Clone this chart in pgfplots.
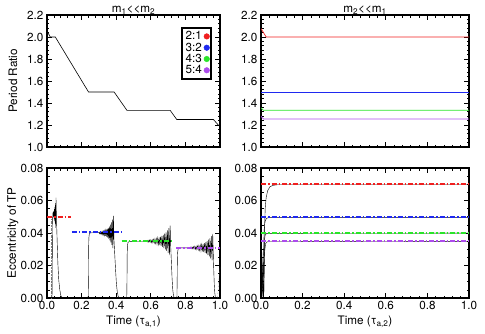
\documentclass[border=0pt]{standalone}
\usepackage{pgfplots}
\pgfplotsset{compat=1.18}
\usepackage{fontspec}
\setmainfont{TeX Gyre Heros}

\definecolor{cred}{rgb}{0.94,0.12,0.12}
\definecolor{cblue}{rgb}{0.12,0.16,0.94}
\definecolor{cgreen}{rgb}{0.16,0.90,0.16}
\definecolor{cpurple}{rgb}{0.68,0.30,0.93}

\pgfplotsset{
  idl/.style={
    scale only axis,
    font=\fontsize{11.7}{13}\selectfont,
    axis line style={line width=1.1pt},
    tick style={line width=0.7pt, black},
    major tick length=5pt, minor tick length=2.5pt,
    xmin=0, xmax=1,
    xtick={0,0.2,0.4,0.6,0.8,1},
    minor x tick num=4,
    scaled ticks=false,
    /pgf/number format/assume math mode=true,
    xticklabel={\pgfmathprintnumber[fixed,fixed zerofill,precision=1]{\tick}},
    every axis title shift=0pt,
    title style={at={(axis description cs:0.5,1)}, anchor=base, yshift=2.5pt},
    every axis x label/.style={at={(axis description cs:0.5,-0.185)}, anchor=center},
  },
  toprow/.style={idl, height=132pt, ymin=1, ymax=2.2, minor y tick num=4,
    ytick={1,1.2,1.4,1.6,1.8,2,2.2}, xticklabels={},
    yticklabel={\pgfmathprintnumber[fixed,fixed zerofill,precision=1]{\tick}}},
  botrow/.style={idl, height=130pt, ymin=0, ymax=0.08, minor y tick num=3,
    ytick={0,0.02,0.04,0.06,0.08},
    yticklabel={\pgfmathprintnumber[fixed,fixed zerofill,precision=2]{\tick}}},
  ddot/.style={line width=1.2pt, dash pattern=on 5pt off 2pt on 1.5pt off 2pt},
  curve/.style={draw=black, line width=0.4pt},
}

\begin{document}
\begin{tikzpicture}
\useasboundingbox (0,0) rectangle (485pt,333pt);

% top left: period ratio, m1 << m2
\begin{axis}[toprow, at={(47pt,186pt)}, anchor=south west, width=173pt,
  title={m\textsubscript{1}<{}<m\textsubscript{2}},
  ylabel={Period Ratio},
  every axis y label/.style={at={(axis description cs:-0.197,0.5)}, rotate=90, anchor=center},
  legend style={at={(0.954,0.909)}, anchor=north east, draw=black, line width=2pt,
    fill=white, inner sep=1.5pt, row sep=-2.5pt,
    font=\fontsize{11.7}{13}\selectfont},
  legend plot pos=right, legend cell align=left]
\addplot[black, line width=0.6pt, forget plot] coordinates {
  (0,2.055) (0.019,2.0) (0.048,2.0) (0.240,1.5) (0.388,1.5) (0.462,1.3333)
  (0.712,1.3333) (0.750,1.25) (0.962,1.25) (0.990,1.2) (1,1.19)};
\addlegendimage{only marks, mark=*, mark size=2.8pt, line width=0.4pt, draw=cred, fill=cred}
\addlegendentry{2:1}
\addlegendimage{only marks, mark=*, mark size=2.8pt, line width=0.4pt, draw=cblue, fill=cblue}
\addlegendentry{3:2}
\addlegendimage{only marks, mark=*, mark size=2.8pt, line width=0.4pt, draw=cgreen, fill=cgreen}
\addlegendentry{4:3}
\addlegendimage{only marks, mark=*, mark size=2.8pt, line width=0.4pt, draw=cpurple, fill=cpurple}
\addlegendentry{5:4}
\end{axis}

% top right: period ratio, m2 << m1
\begin{axis}[toprow, at={(261pt,186pt)}, anchor=south west, width=208pt,
  title={m\textsubscript{2}<{}<m\textsubscript{1}}]
\addplot[draw=cred, line width=0.7pt] coordinates {(0,2.076) (0.025,2.0) (1,2.0)};
\addplot[draw=cblue, line width=0.7pt] coordinates {(0,1.5) (1,1.5)};
\addplot[draw=cgreen, line width=0.7pt] coordinates {(0,1.355) (0.012,1.3333) (1,1.3333)};
\addplot[draw=cpurple, line width=0.7pt] coordinates {(0,1.28) (0.012,1.2545) (1,1.2545)};
\end{axis}

% bottom left: eccentricity, m1 << m2
\begin{axis}[botrow, at={(47pt,35pt)}, anchor=south west, width=173pt,
  ylabel={Eccentricity of TP},
  every axis y label/.style={at={(axis description cs:-0.197,0.5)}, rotate=90, anchor=center},
  xlabel={Time (τ\textsubscript{a,1})}]
\addplot[draw=gray, line width=0.4pt, densely dotted] coordinates {(0.023,0) (0.023,0.049)};
\addplot[draw=gray, line width=0.4pt, densely dotted] coordinates {(0.986,0) (0.990,0.006) (0.995,0.014) (1,0.019)};
\addplot[curve] coordinates {
  (0,0) (0.029,0) (0.030,0.012) (0.031,0.032) (0.032,0.045) (0.033,0.050)
  (0.034,0.0525) (0.0355,0.05029) (0.037,0.05297) (0.0385,0.04971) (0.040,0.05367)
  (0.0415,0.04887) (0.043,0.05469) (0.0445,0.04762) (0.046,0.05620) (0.0475,0.04579)
  (0.049,0.05843) (0.0505,0.04310) (0.052,0.06170)
  (0.055,0.048) (0.059,0.034) (0.063,0.021) (0.068,0.011) (0.074,0.005) (0.080,0.0015) (0.087,0)
  (0.238,0) (0.2395,0.012) (0.2405,0.030) (0.242,0.037) (0.245,0.0396) (0.250,0.0401) (0.297,0.0403)
  (0.300,0.04038) (0.303,0.03957) (0.306,0.04048) (0.309,0.03946) (0.312,0.04061)
  (0.315,0.03931) (0.318,0.04077) (0.321,0.03913) (0.324,0.04098) (0.327,0.03890)
  (0.330,0.04124) (0.333,0.03860) (0.336,0.04157) (0.339,0.03823) (0.342,0.04200)
  (0.345,0.03775) (0.348,0.04253) (0.351,0.03715) (0.354,0.04321) (0.357,0.03639)
  (0.360,0.04407) (0.363,0.03542) (0.366,0.04515) (0.369,0.03420) (0.372,0.04653)
  (0.375,0.03264) (0.378,0.04828) (0.381,0.03067) (0.384,0.05050)
  (0.387,0.036) (0.391,0.028) (0.396,0.018) (0.401,0.009) (0.406,0.004) (0.411,0.0012) (0.416,0.0002) (0.420,0)
  (0.461,0) (0.4625,0.012) (0.4635,0.027) (0.465,0.032) (0.468,0.0342) (0.475,0.0347) (0.577,0.0348)
  (0.580,0.03451) (0.584,0.03554) (0.588,0.03441) (0.592,0.03564) (0.596,0.03430)
  (0.600,0.03577) (0.604,0.03416) (0.608,0.03592) (0.612,0.03400) (0.616,0.03610)
  (0.620,0.03380) (0.624,0.03632) (0.628,0.03356) (0.632,0.03657) (0.636,0.03328)
  (0.640,0.03688) (0.644,0.03294) (0.648,0.03725) (0.652,0.03253) (0.656,0.03770)
  (0.660,0.03205) (0.664,0.03823) (0.668,0.03147) (0.672,0.03887) (0.676,0.03077)
  (0.680,0.03963) (0.684,0.02994) (0.688,0.04054) (0.692,0.02894) (0.696,0.04163)
  (0.700,0.02775) (0.704,0.04294) (0.708,0.02632) (0.712,0.04450)
  (0.715,0.032) (0.719,0.022) (0.723,0.012) (0.727,0.005) (0.731,0.0015) (0.736,0)
  (0.751,0) (0.7525,0.012) (0.7535,0.024) (0.755,0.028) (0.758,0.0302) (0.765,0.0308) (0.826,0.0309)
  (0.830,0.03138) (0.834,0.03038) (0.838,0.03147) (0.842,0.03027) (0.846,0.03159)
  (0.850,0.03015) (0.854,0.03172) (0.858,0.03000) (0.862,0.03188) (0.866,0.02983)
  (0.870,0.03208) (0.874,0.02961) (0.878,0.03231) (0.882,0.02936) (0.886,0.03258)
  (0.890,0.02906) (0.894,0.03292) (0.898,0.02869) (0.902,0.03331) (0.906,0.02826)
  (0.910,0.03379) (0.914,0.02774) (0.918,0.03436) (0.922,0.02712) (0.926,0.03504)
  (0.930,0.02637) (0.934,0.03585) (0.938,0.02548) (0.942,0.03683) (0.946,0.02441)
  (0.950,0.03800) (0.954,0.02313) (0.958,0.03940)
  (0.961,0.028) (0.964,0.017) (0.967,0.008) (0.970,0.003) (0.973,0.0005) (0.976,0) (0.985,0)};
\addplot[draw=cred, ddot] coordinates {(0,0.04985) (0.139,0.04985)};
\addplot[draw=cblue, ddot] coordinates {(0.144,0.04062) (0.432,0.04062)};
\addplot[draw=cgreen, ddot] coordinates {(0.432,0.03508) (0.730,0.03508)};
\addplot[draw=cpurple, ddot] coordinates {(0.746,0.03077) (1,0.03077)};
\end{axis}

% bottom right: eccentricity, m2 << m1
\begin{axis}[botrow, at={(261pt,35pt)}, anchor=south west, width=208pt,
  xlabel={Time (τ\textsubscript{a,2})}]
\addplot[curve] coordinates {(0,0.038) (0.005,0.025) (0.010,0.006) (0.013,0) (0.015,0.015)
  (0.017,0.040) (0.020,0.055) (0.025,0.062) (0.032,0.066) (0.043,0.0685) (0.060,0.0694)
  (0.080,0.0697) (1,0.0697)};
\addplot[curve] coordinates {(0,0.036) (0.004,0.020) (0.008,0.004) (0.010,0) (0.012,0.025)
  (0.015,0.042) (0.019,0.047) (0.026,0.0490) (0.040,0.0496) (1,0.0496)};
\addplot[curve] coordinates {(0,0.035) (0.005,0.018) (0.009,0.003) (0.011,0) (0.013,0.022)
  (0.016,0.035) (0.020,0.0388) (0.028,0.0398) (1,0.0399)};
\addplot[curve] coordinates {(0,0.033) (0.006,0.015) (0.011,0.002) (0.013,0) (0.015,0.018)
  (0.018,0.029) (0.022,0.0335) (0.030,0.0346) (1,0.0349)};
\addplot[draw=cred, ddot] coordinates {(0,0.07015) (1,0.07015)};
\addplot[draw=cblue, ddot] coordinates {(0,0.04985) (1,0.04985)};
\addplot[draw=cgreen, ddot] coordinates {(0,0.0400) (1,0.0400)};
\addplot[draw=cpurple, ddot] coordinates {(0,0.03508) (1,0.03508)};
\end{axis}
\end{tikzpicture}
\end{document}
